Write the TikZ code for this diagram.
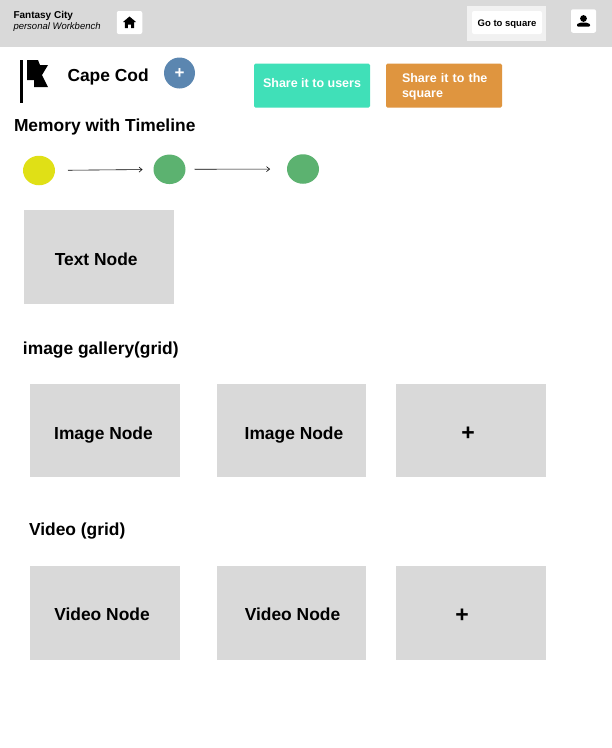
\documentclass[tikz,border=0pt]{standalone}
\usepackage{fontspec}
\setmainfont{Liberation Sans}
\usetikzlibrary{positioning, arrows.meta, shapes.geometric}
\definecolor{barGray}{HTML}{D9D9D9}
\definecolor{tealBtn}{HTML}{40E0B8}
\definecolor{orangeBtn}{HTML}{DF953F}
\definecolor{blueBtn}{HTML}{5B86B0}
\definecolor{yellowDot}{HTML}{E0E016}
\definecolor{greenDot}{HTML}{5CB270}
\tikzset{
	every node/.style={inner sep=0pt, outer sep=0pt},
	>={Straight Barb[length=3pt,width=5pt]},
	box/.style={fill=barGray, minimum width=150pt, minimum height=93.5pt},
	boxtext/.style={font=\fontsize{17.4}{20}\selectfont\bfseries},
	plustext/.style={font=\fontsize{23}{23}\selectfont\bfseries},
	heading/.style={font=\fontsize{17.4}{20}\selectfont\bfseries, anchor=west},
	iconbtn/.style={fill=white, rounded corners=2pt, minimum width=25pt, minimum height=23pt},
	sharebtn/.style={rounded corners=1.5pt, minimum height=44pt, minimum width=116pt},
	sharetext/.style={text=white, font=\fontsize{12.5}{15.5}\selectfont\bfseries},
	dot/.style={ellipse, minimum width=32pt, minimum height=29.5pt},
	timeline/.style={->, line width=0.6pt, black}}

\begin{document}
\begin{tikzpicture}[x=1pt, y=-1pt]
	\useasboundingbox (0,0) rectangle (612,748);
	\fill[white] (0,0) rectangle (612,748);

	% top bar
	\node[fill=barGray, minimum width=612pt, minimum height=47pt, anchor=north west] (topbar) at (0,0) {};
	\node[anchor=west, font=\fontsize{10}{12}\selectfont\bfseries] (title) at (13.5,15.5) {Fantasy City};
	\node[anchor=west, font=\fontsize{9.5}{12}\selectfont\itshape] (subtitle) at (13.5,27.5) {personal Workbench};
	\node[iconbtn, minimum width=25.5pt] (homebtn) at (129.5,22.5) {};
	\fill (homebtn.center) ++(-6.5,-0.5) -- ++(6.5,-5.5) -- ++(6.5,5.5) -- ++(-1.8,0) -- ++(0,6) -- ++(-3,0) -- ++(0,-3.5) -- ++(-3.4,0) -- ++(0,3.5) -- ++(-3,0) -- ++(0,-6) -- cycle;
	\node[fill=white, opacity=0.65, minimum width=79pt, minimum height=35pt] (squareback) at (506.5,23.5) {};
	\node[fill=white, rounded corners=2pt, minimum width=70pt, minimum height=23pt, label={[font=\fontsize{9.5}{12}\selectfont\bfseries, yshift=-2pt]center:Go to square}] (squarebtn) at (507,22.5) {};
	\node[iconbtn, minimum height=23.5pt] (userbtn) at (583.5,21) {};
	\fill (583.5,18.5) circle (3.4pt);
	\fill[rounded corners=0.8pt] (577,26.5) -- (577,24) -- (581,22.5) -- (586,22.5) -- (590,24) -- (590,26.5) -- cycle;

	% title row
	\fill (19.5,60) rectangle (23,103);
	\fill (27,60) -- (38,60) -- (40,65) -- (48,65) -- (42,75) -- (48,87) -- (34,87) -- (34,80) -- (27,80) -- cycle;
	\node[anchor=west, font=\fontsize{17.4}{20}\selectfont\bfseries] (place) at (67.5,76.5) {Cape Cod};
	\node[circle, fill=blueBtn, minimum size=31pt, label={[text=white, font=\fontsize{17}{17}\selectfont\bfseries, yshift=-0.5pt]center:+}] (addbtn) at (179.5,73) {};
	\node[sharebtn, fill=tealBtn, label={[sharetext, yshift=2pt]center:Share it to users}] (shareusers) at (312,85.5) {};
	\node[sharebtn, fill=orangeBtn] (sharesquare) at (444,85.5) {};
	\node[sharetext, anchor=north west, text width=100pt, align=left] (sharesquaretext) at (402,73) {Share it to the square};

	% timeline
	\node[heading] (memory) at (14,126.5) {Memory with Timeline};
	\node[dot, fill=yellowDot] (dot1) at (39,170.5) {};
	\node[dot, fill=greenDot] (dot2) at (169.5,169.3) {};
	\node[dot, fill=greenDot] (dot3) at (303,169) {};
	\draw[timeline, shorten <=13pt, shorten >=11pt] (dot1) -- (dot2);
	\draw[timeline, shorten <=9pt, shorten >=17pt] (dot2) -- (dot3);

	\node[box, minimum width=149.5pt, label={[boxtext, xshift=-3pt, yshift=-2pt]center:Text Node}] (textnode) at (99.2,257) {};

	% image grid
	\node[heading] (gallery) at (23,350) {image gallery(grid)};
	\node[box, label={[boxtext, xshift=-1.5pt, yshift=-5pt]center:Image Node}] (image1) at (105,430.5) {};
	\node[box, minimum width=149pt, label={[boxtext, xshift=2.5pt, yshift=-5pt]center:Image Node}] (image2) at (291.5,430.5) {};
	\node[box, label={[plustext, xshift=-3pt, yshift=-3pt]center:+}] (image3) at (471,430.5) {};

	% video grid
	\node[heading] (video) at (29,531) {Video (grid)};
	\node[box, label={[boxtext, xshift=-3pt, yshift=-1.5pt]center:Video Node}] (video1) at (105,613) {};
	\node[box, minimum width=149pt, label={[boxtext, xshift=1pt, yshift=-1.5pt]center:Video Node}] (video2) at (291.5,613) {};
	\node[box, label={[plustext, xshift=-9pt, yshift=-2.5pt]center:+}] (video3) at (471,613) {};
\end{tikzpicture}
\end{document}
